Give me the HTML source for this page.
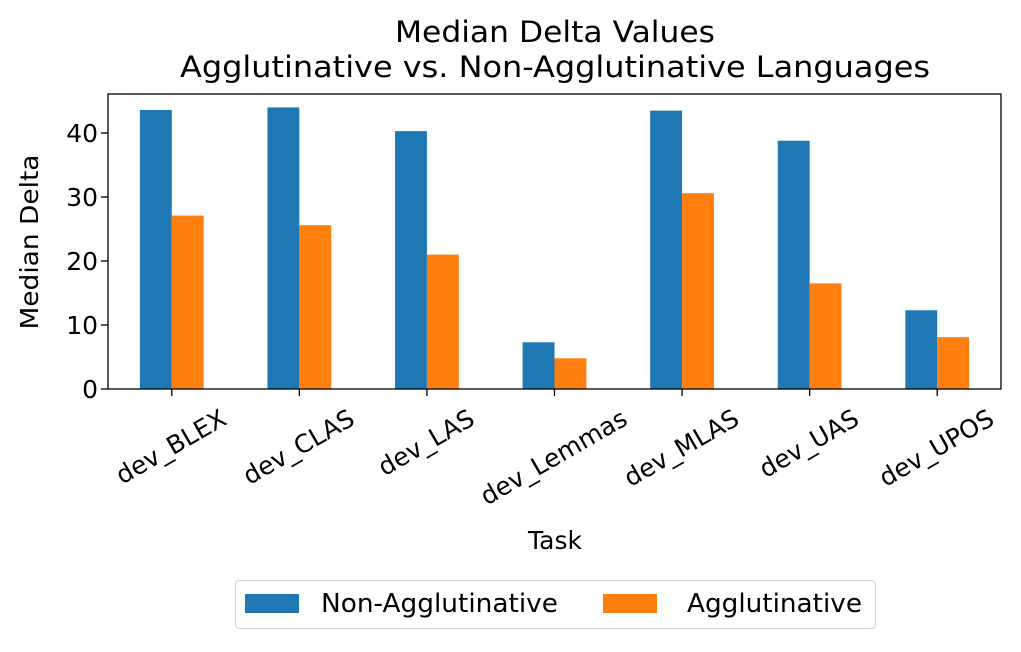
<!DOCTYPE html>
<html><head><meta charset="utf-8"><style>
body{margin:0;background:#fff;}
svg text{font-family:"DejaVu Sans","Liberation Sans",sans-serif;fill:#000;}
</style></head><body>
<svg id="chart" width="1021" height="647" xmlns="http://www.w3.org/2000/svg">
<text x="555" y="42" font-size="29" text-anchor="middle" textLength="320" lengthAdjust="spacingAndGlyphs">Median Delta Values</text>
<text x="555" y="77" font-size="29" text-anchor="middle" textLength="750" lengthAdjust="spacingAndGlyphs">Agglutinative vs. Non-Agglutinative Languages</text>
<g id="bars"></g>
<g id="axes"></g>
<text x="555" y="549" font-size="25" text-anchor="middle">Task</text>
<text transform="translate(38,242) rotate(-90)" font-size="25" text-anchor="middle" textLength="175" lengthAdjust="spacingAndGlyphs">Median Delta</text>
<g>
<rect x="235.5" y="580.5" width="640" height="48" rx="4" fill="#fff" stroke="#ccc"/>
<rect x="245" y="594" width="54" height="19" fill="#1f77b4"/>
<text x="321" y="612" font-size="26" textLength="237" lengthAdjust="spacingAndGlyphs">Non-Agglutinative</text>
<rect x="603" y="594" width="54" height="19" fill="#ff7f0e"/>
<text x="687" y="612" font-size="26" textLength="175" lengthAdjust="spacingAndGlyphs">Agglutinative</text>
</g>
</svg>
<script>
const categories=["dev_BLEX","dev_CLAS","dev_LAS","dev_Lemmas","dev_MLAS","dev_UAS","dev_UPOS"];
const nonAgglutinative=[43.6,44.0,40.3,7.3,43.5,38.8,12.3];
const agglutinative=[27.1,25.6,21.0,4.8,30.6,16.5,8.1];
const yTicks=[0,10,20,30,40];
const NS="http://www.w3.org/2000/svg";
const L=108,R=1001,T=94,B=389,yMax=46.1;
const step=(R-L)/categories.length;
const x=i=>L+step*(i+0.5);
const y=v=>B-(v/yMax)*(B-T);
const bw=step*0.25;
function mk(t,a){const e=document.createElementNS(NS,t);for(const k in a)e.setAttribute(k,a[k]);return e;}
const bars=document.getElementById('bars'),axes=document.getElementById('axes');
categories.forEach((c,i)=>{
 const b1=mk('rect',{x:x(i)-bw,y:y(nonAgglutinative[i]),width:bw,height:B-y(nonAgglutinative[i]),fill:'#1f77b4'});
 
 
 bars.appendChild(b1);
 const b2=mk('rect',{x:x(i),y:y(agglutinative[i]),width:bw,height:B-y(agglutinative[i]),fill:'#ff7f0e'});
 
 
 bars.appendChild(b2);
 const tk=mk('line',{x1:x(i),x2:x(i),y1:B,y2:B+7,stroke:'#000','stroke-width':1.3});
 
 
 axes.appendChild(tk);
 const lb=mk('text',{'font-size':25,'text-anchor':'middle','dominant-baseline':'middle'});
 
 
 lb.textContent=c;axes.appendChild(lb);
 const len=lb.getComputedTextLength();
 const cy=407+(len*0.5+24*0.866)/2;
 lb.setAttribute('transform',`translate(${x(i)},${cy}) rotate(-30)`);
});
yTicks.forEach(v=>{
 const tk=mk('line',{x1:L-7,x2:L,y1:y(v),y2:y(v),stroke:'#000','stroke-width':1.3});
 
 
 axes.appendChild(tk);
 const lb=mk('text',{x:L-10,y:y(v)+9,'font-size':25,'text-anchor':'end'});
 
 
 lb.textContent=v;axes.appendChild(lb);
});
const frame=mk('rect',{x:L,y:T,width:R-L,height:B-T,fill:'none',stroke:'#000','stroke-width':1.3});


axes.appendChild(frame);
</script>
</body></html>
